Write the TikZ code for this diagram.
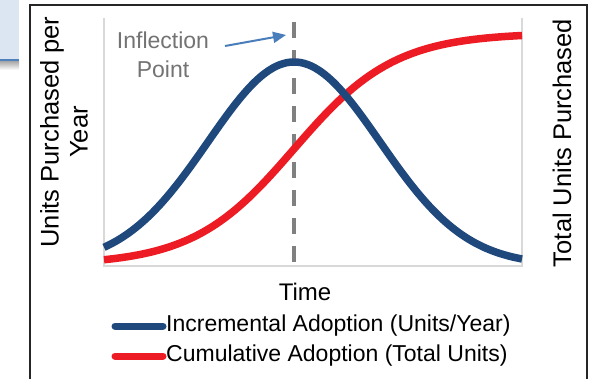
\documentclass[tikz,border=0pt]{standalone}
\usepackage{fontspec}
\setmainfont{Liberation Sans}
\usetikzlibrary{arrows.meta}
\definecolor{cblue}{RGB}{31,73,125}
\definecolor{cred}{RGB}{237,28,36}
\definecolor{cgray}{RGB}{128,128,128}
\definecolor{ctext}{RGB}{115,115,115}
\definecolor{carrow}{RGB}{74,126,187}
\definecolor{caxis}{RGB}{217,217,217}
\definecolor{cpanel}{RGB}{220,230,242}
\definecolor{cpanelline}{RGB}{79,129,189}
\tikzset{
  lbl/.style={font=\fontsize{23}{29}\selectfont, inner sep=0pt},
  vlbl/.style={font=\fontsize{25.5}{29}\selectfont, inner sep=0pt, rotate=90},
  curve/.style={line width=7.5pt},
  axisline/.style={caxis, line width=1.5pt},
}
\begin{document}
\begin{tikzpicture}[x=1pt,y=-1pt]
\useasboundingbox (0,0) rectangle (593,378);
\fill[white] (0,0) rectangle (593,378);
% top-left panel fragment
\fill[cpanel] (0,0) rectangle (19,60);
\shade[top color=black!35, bottom color=white] (0,61) rectangle (19,70);
\draw[cpanelline, line width=1.5pt] (0,60) -- (19,60);
% frame
\draw[black!85, line width=2.5pt] (30,380) -- (30,5) -- (587,5) -- (587,380);
% axes
\coordinate (lt) at (104,18);
\coordinate (lb) at (104,266);
\coordinate (rt) at (522,18);
\coordinate (rb) at (522,266);
\draw[axisline] (lt) -- (lb) -- (rb) -- (rt);
% dashed inflection line
\coordinate (dt) at (294,22);
\coordinate (db) at (294,273);
\draw[cgray, line width=4pt, dash pattern=on 16pt off 12pt] (dt) -- (db);
% curves
\draw[cred, curve] plot[domain=104:522, samples=120, smooth] (\x,{265-232/(1+exp(-1.702*(\x-294)/86))});
\draw[cblue, curve] plot[domain=104:522, samples=120, smooth] (\x,{265-203*exp(-0.5*((\x-294)/86)^2)});
% labels
\node[lbl, ctext, align=center] (infl) at (163,55) {Inflection\\Point};
\coordinate (ah) at (286,35);
\draw[carrow, line width=2pt, -{Triangle[length=13pt,width=11pt]}] (225,46) -- (ah);
\node[vlbl, align=center] (ylab) at (64,132) {Units Purchased per\\Year};
\node[vlbl] (y2lab) at (562,143) {Total Units Purchased};
\node[lbl, font=\fontsize{24}{29}\selectfont] (time) at (305,292) {Time};
% legend
\draw[cblue, line width=7pt, line cap=round] (115,326) -- (163,326);
\node[lbl, anchor=west] (leg1) at (166,326) {Incremental Adoption (Units/Year)};
\draw[cred, line width=7pt, line cap=round] (115,356) -- (163,356);
\node[lbl, anchor=west] (leg2) at (166,356) {Cumulative Adoption (Total Units)};
\end{tikzpicture}
\end{document}
